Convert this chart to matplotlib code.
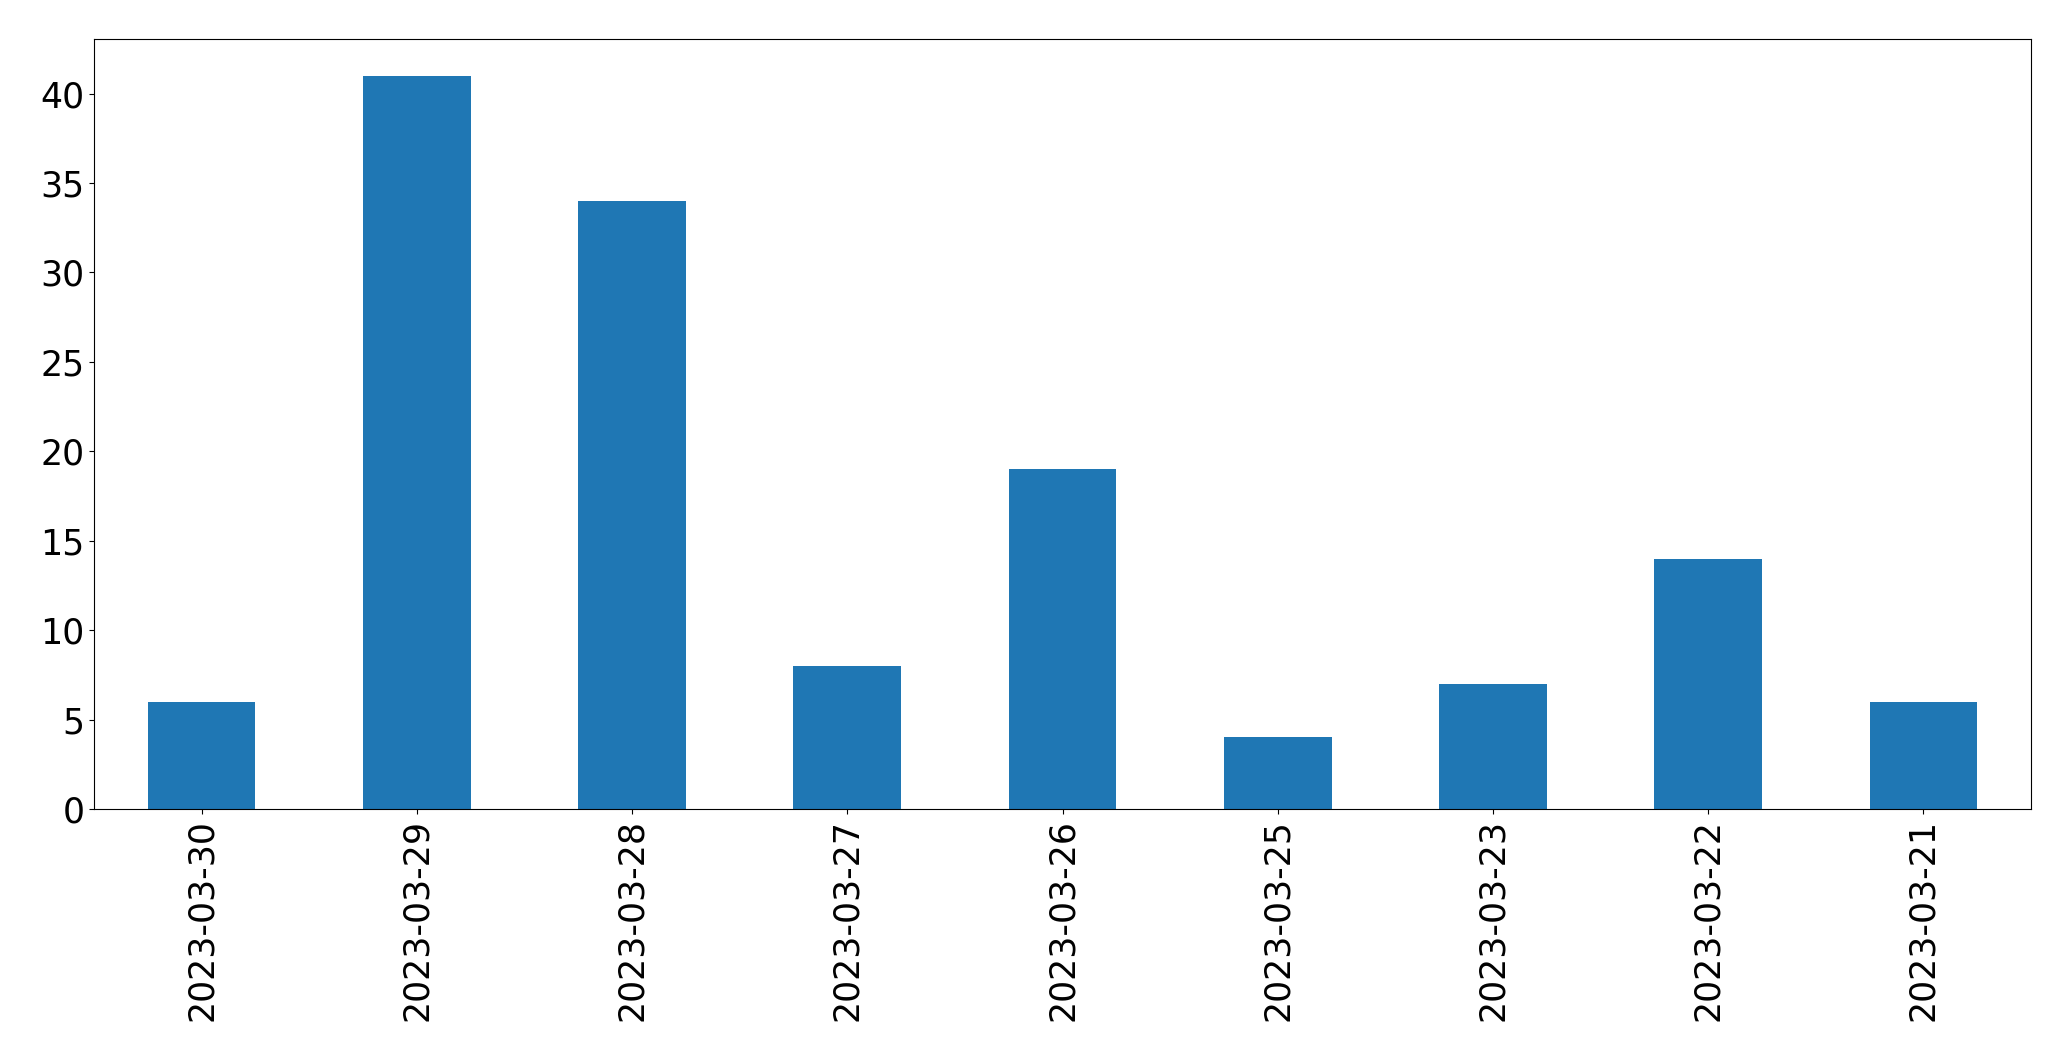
import matplotlib
matplotlib.use("Agg")
import matplotlib.pyplot as plt
import numpy as np

dates = ["2023-03-30", "2023-03-29", "2023-03-28", "2023-03-27", "2023-03-26",
         "2023-03-25", "2023-03-23", "2023-03-22", "2023-03-21"]
counts = [6, 41, 34, 8, 19, 4, 7, 14, 6]

fig = plt.figure(figsize=(20.71, 10.61), dpi=100)
ax = fig.add_axes([94/2071, 1 - 809/1061, (2031-94)/2071, (809-39)/1061])
x = np.arange(len(dates))
ax.bar(x, counts, width=0.5, color="#1f77b4")
ax.set_xlim(-0.5, len(dates) - 0.5)
ax.set_xticks(x)
ax.set_xticklabels(dates, rotation=90)
ax.tick_params(labelsize=25)
fig.savefig("out.png", dpi=100)
